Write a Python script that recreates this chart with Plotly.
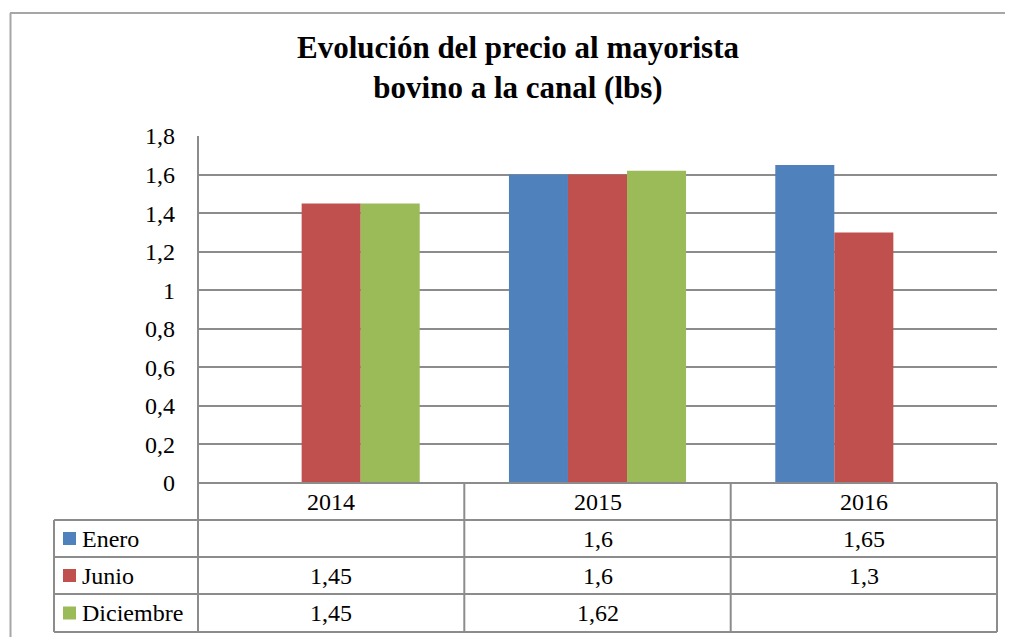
import plotly.graph_objects as go

# ---- data ----
years = ["2014", "2015", "2016"]
series_names = ["Enero", "Junio", "Diciembre"]
enero = [None, 1.6, 1.65]
junio = [1.45, 1.6, 1.3]
diciembre = [1.45, 1.62, None]
colors = ["#4F81BD", "#C0504D", "#9BBB59"]
y_ticks = [0, 0.2, 0.4, 0.6, 0.8, 1, 1.2, 1.4, 1.6, 1.8]

OFF = 8  # page body margin
W, H = 1013 - OFF, 637 - OFF
FONT = "Liberation Serif, Times New Roman, serif"
GRID = "#8c8c8c"


def px(x):
    return (x - OFF) / W


def py(y):
    return 1 - (y - OFF) / H


fig = go.Figure()
for name, vals, col in zip(series_names, [enero, junio, diciembre], colors):
    fig.add_trace(go.Bar(x=years, y=vals, name=name, marker_color=col,
                         marker_line_width=0, showlegend=False))

# plot geometry (pixels in the window)
PL, PR, PT, PB = 198, 997, 136, 483
TL = 54
row_edges = [483, 520, 557, 594, 632]
col_edges = [198, 464.3, 730.7, 997]

shapes = []
line = dict(color=GRID, width=2)
# outer chart frame
shapes.append(dict(type="line", xref="paper", yref="paper", x0=px(10), x1=px(1013),
                   y0=py(13), y1=py(13), line=dict(color="#a6a6a6", width=2)))
shapes.append(dict(type="line", xref="paper", yref="paper", x0=px(10.5), x1=px(10.5),
                   y0=py(13), y1=py(637), line=dict(color="#a6a6a6", width=2)))
# table horizontal lines
for i, ry in enumerate(row_edges):
    x0 = PL if i == 0 else TL
    shapes.append(dict(type="line", xref="paper", yref="paper", x0=px(x0), x1=px(PR),
                       y0=py(ry), y1=py(ry), line=line))
# table vertical lines
for cx in col_edges:
    shapes.append(dict(type="line", xref="paper", yref="paper", x0=px(cx), x1=px(cx),
                       y0=py(row_edges[0]), y1=py(row_edges[-1]), line=line))
shapes.append(dict(type="line", xref="paper", yref="paper", x0=px(TL), x1=px(TL),
                   y0=py(row_edges[1]), y1=py(row_edges[-1]), line=line))
# y axis line
shapes.append(dict(type="line", xref="paper", yref="paper", x0=px(PL), x1=px(PL),
                   y0=py(PT), y1=py(PB), line=line))

annotations = []
TXT = dict(family=FONT, size=24, color="black")
# header years (x given as category index on the category axis)
hy = (row_edges[0] + row_edges[1]) / 2
for i, yr in enumerate(years):
    annotations.append(dict(x=i, xref="x", y=py(hy), yref="paper", text=yr,
                            showarrow=False, font=TXT, xanchor="center", yanchor="middle"))


def fmt(v):
    return "" if v is None else str(v).replace(".", ",")


for r, (name, vals, col) in enumerate(zip(series_names, [enero, junio, diciembre], colors)):
    cy = (row_edges[r + 1] + row_edges[r + 2]) / 2
    shapes.append(dict(type="rect", xref="paper", yref="paper", x0=px(63), x1=px(76),
                       y0=py(cy - 6.5), y1=py(cy + 6.5), fillcolor=col, line_width=0))
    annotations.append(dict(x=px(80), xref="paper", y=py(cy), yref="paper", text=name,
                            showarrow=False, font=TXT, xanchor="left", yanchor="middle"))
    for i, v in enumerate(vals):
        if v is None:
            continue
        annotations.append(dict(x=i, xref="x", y=py(cy), yref="paper", text=fmt(v),
                                showarrow=False, font=TXT, xanchor="center", yanchor="middle"))

fig.update_layout(
    width=W, height=H,
    margin=dict(l=0, r=0, t=0, b=0, pad=0),
    paper_bgcolor="white", plot_bgcolor="white",
    separators=",.",
    barmode="group", bargap=0.335, bargroupgap=0,
    title=dict(text="<b>Evolución del precio al mayorista<br>bovino a la canal (lbs)</b>",
               x=px(518), xanchor="center", xref="container",
               y=py(58), yanchor="top", yref="container", automargin=False,
               font=dict(family=FONT, size=31, color="black")),
    xaxis=dict(type="category", range=[-0.5, len(years) - 0.5], domain=[px(PL), px(PR)],
               showticklabels=False, showgrid=False, showline=False, zeroline=False,
               ticks="", automargin=False),
    yaxis=dict(domain=[py(PB), py(PT)], range=[0, 1.8], tickvals=y_ticks,
               showgrid=True, gridcolor=GRID, gridwidth=2, zeroline=False,
               showline=False, ticks="", ticklabelstandoff=22, automargin=False,
               tickfont=TXT),
    shapes=shapes, annotations=annotations,
)

fig.write_html("out.html")
